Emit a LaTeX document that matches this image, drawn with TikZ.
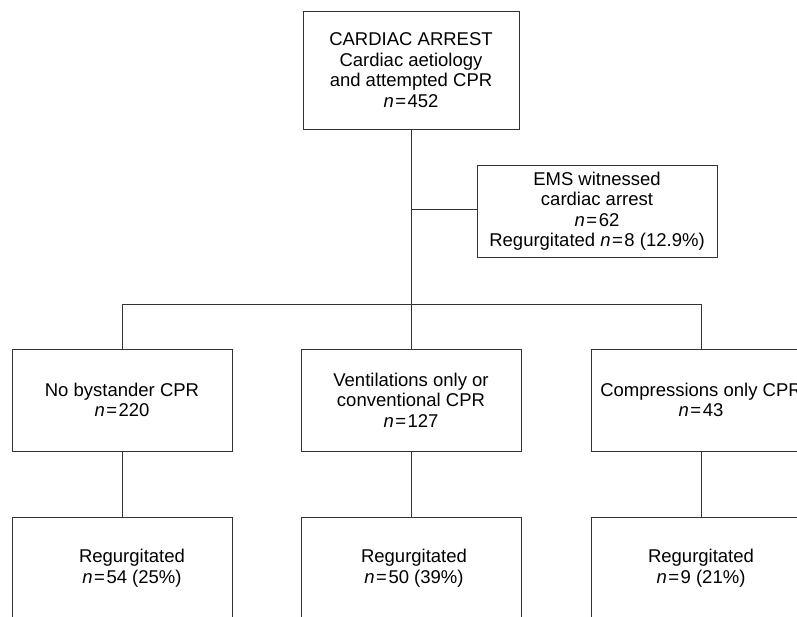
\documentclass[tikz,border=0pt]{standalone}
\usepackage{fontspec}
\setmainfont{Liberation Sans}
\begin{document}
\begin{tikzpicture}[x=1pt,y=-1pt,
  box/.style={draw=black!80,line width=0.8pt,align=center,inner sep=0pt,
    font=\fontsize{18.5}{20.5}\selectfont},
  link/.style={draw=black!80,line width=0.8pt}]
\newcommand{\nn}[1]{\textit{n}\kern1.5pt=\kern1.5pt#1}
\useasboundingbox (0,0) rectangle (797,616);
\clip (0,0) rectangle (797,616);
\node[box,minimum width=216pt,minimum height=118pt] (top) at (411,70)
  {CARDIAC ARREST\\ Cardiac aetiology\\and attempted CPR\\\nn{452}};
\node[box,minimum width=240pt,minimum height=92pt] (ems) at (597,211)
  {EMS witnessed\\cardiac arrest\\\nn{62}\\Regurgitated \nn{8} (12.9\%)};
\node[box,minimum width=220pt,minimum height=102pt] (l1) at (122,400)
  {No bystander CPR\\\nn{220}};
\node[box,minimum width=220pt,minimum height=102pt] (m1) at (411,400)
  {Ventilations only or\\conventional CPR\\\nn{127}};
\node[box,minimum width=220pt,minimum height=102pt] (r1) at (701,400)
  {Compressions only CPR\\\nn{43}};
\node[box,minimum width=220pt,minimum height=102pt] (l2) at (122,568)
  {\hspace*{20pt}Regurgitated\\\hspace*{20pt}\nn{54} (25\%)};
\node[box,minimum width=220pt,minimum height=102pt] (m2) at (411,568)
  {\hspace*{6pt}Regurgitated\\\hspace*{6pt}\nn{50} (39\%)};
\node[box,minimum width=220pt,minimum height=102pt] (r2) at (701,568)
  {Regurgitated\\\nn{9} (21\%)};
\coordinate (hub) at (411,304);
\coordinate (br) at (411,209);
\path[link] (top.south) -- (m1.north);
\path[link] (br) -- (br -| ems.west);
\path[link] (l1.north |- hub) -- (r1.north |- hub);
\path[link] (l1.north |- hub) -- (l1.north);
\path[link] (r1.north |- hub) -- (r1.north);
\path[link] (l1.south) -- (l2.north);
\path[link] (m1.south) -- (m2.north);
\path[link] (r1.south) -- (r2.north);
\end{tikzpicture}
\end{document}
